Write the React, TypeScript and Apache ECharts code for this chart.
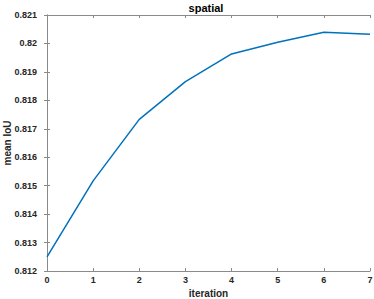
import React, { useEffect, useRef } from "react";
import * as echarts from "echarts";

const iterations = [0, 1, 2, 3, 4, 5, 6, 7];
const meanIoU = [0.8125, 0.81517, 0.81733, 0.81866, 0.81963, 0.82004, 0.82039, 0.82032];
const yTicks = [0.812, 0.813, 0.814, 0.815, 0.816, 0.817, 0.818, 0.819, 0.82, 0.821];

export default function App() {
  const ref = useRef<HTMLDivElement>(null);
  useEffect(() => {
    if (!ref.current) return;
    const chart = echarts.init(ref.current, undefined, { renderer: "svg" });
    const font = "'Liberation Sans', Arial, Helvetica, sans-serif";
    const axisColor = "#262626";
    const lineStyle = { color: "#8a8a8a", width: 1 };
    const yLabel = (v: number) => String(Math.round(v * 1000) / 1000);
    chart.setOption({
      animation: false,
      title: {
        text: "spatial",
        left: 206,
        textAlign: "center",
        top: 2,
        padding: 0,
        textStyle: { fontFamily: font, fontSize: 11, fontWeight: "bold", color: "#000" },
      },
      grid: { left: 47, right: 4, top: 15, bottom: 28, containLabel: false, outerBoundsMode: "none" },
      xAxis: [
        {
          type: "value",
          min: 0,
          max: 7,
          interval: 1,
          name: "iteration",
          nameLocation: "middle",
          nameGap: 17,
          nameMoveOverlap: false,
          nameTextStyle: { fontFamily: font, fontSize: 10, fontWeight: "bold", color: axisColor },
          axisLine: { show: true, lineStyle },
          axisTick: { show: true, inside: true, length: 3, lineStyle },
          axisLabel: { fontFamily: font, fontSize: 9, fontWeight: "bold", color: axisColor, margin: 4 },
          splitLine: { show: false },
        },
        {
          type: "value",
          position: "top",
          min: 0,
          max: 7,
          interval: 1,
          axisLine: { show: true, lineStyle },
          axisTick: { show: true, inside: true, length: 3, lineStyle },
          axisLabel: { show: false },
          splitLine: { show: false },
        },
      ],
      yAxis: [
        {
          type: "value",
          min: yTicks[0],
          max: yTicks[yTicks.length - 1],
          interval: 0.001,
          name: "mean IoU",
          nameLocation: "middle",
          nameGap: 35,
          nameMoveOverlap: false,
          nameRotate: 90,
          nameTextStyle: { fontFamily: font, fontSize: 10, fontWeight: "bold", color: axisColor },
          axisLine: { show: true, lineStyle },
          axisTick: { show: true, inside: true, length: 3, lineStyle },
          axisLabel: { fontFamily: font, fontSize: 9, fontWeight: "bold", color: axisColor, margin: 10, formatter: yLabel },
          splitLine: { show: false },
        },
        {
          type: "value",
          position: "right",
          min: yTicks[0],
          max: yTicks[yTicks.length - 1],
          interval: 0.001,
          axisLine: { show: true, lineStyle },
          axisTick: { show: true, inside: true, length: 3, lineStyle },
          axisLabel: { show: false },
          splitLine: { show: false },
        },
      ],
      series: [
        {
          type: "line",
          data: iterations.map((x, i) => [x, meanIoU[i]]),
          showSymbol: false,
          lineStyle: { color: "#0072BD", width: 1.5 },
          itemStyle: { color: "#0072BD" },
        },
      ],
    });
    return () => chart.dispose();
  }, []);
  return (
    <div
      ref={ref}
      style={{ position: "absolute", left: 0, top: 0, width: 374, height: 299, background: "#fff" }}
    />
  );
}
